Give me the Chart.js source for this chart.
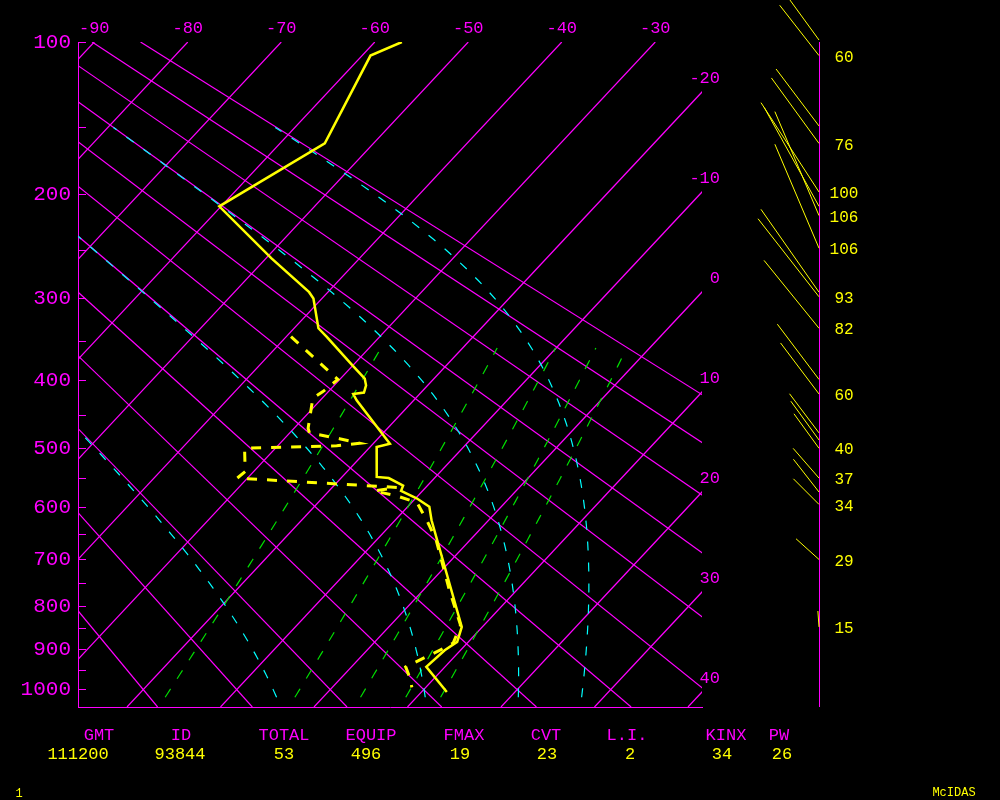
<!DOCTYPE html>
<html>
<head>
<meta charset="utf-8">
<title>Sounding 93844</title>
<script src="https://cdn.jsdelivr.net/npm/chart.js@4.4.1/dist/chart.umd.min.js"></script>
<style>
  html, body { margin: 0; padding: 0; background: #000; }
  #wrap { position: relative; width: 1000px; height: 800px; }
</style>
</head>
<body>
<div id="wrap"><canvas id="skewt" width="1000" height="800"></canvas></div>
<script>
"use strict";

// Temperature sounding (hPa, deg C)
const tempPres = [100, 107, 161, 210, 258, 293, 300, 334, 344, 382, 398, 407, 417, 419, 428, 493, 498, 547, 549, 562, 571, 584, 599, 624, 846, 881, 901, 942, 1006];
const tempVals = [-57.1, -59.1, -55.2, -60.2, -49.4, -42.0, -40.9, -37.4, -35.7, -29.8, -27.4, -26.6, -26.1, -27.1, -26.1, -18.2, -19.3, -16.3, -14.9, -12.6, -12.3, -9.9, -7.7, -6.1, 7.8, 8.8, 8.3, 8.0, 12.7];

// Dewpoint sounding (hPa, deg C)
const dewPres = [344, 399, 416, 425, 469, 476, 485, 492, 496, 500, 538, 549, 565, 571, 580, 592, 608, 624, 662, 764, 842, 884, 897, 921, 942, 969, 994];
const dewVals = [-39.5, -30.2, -30.6, -31.0, -28.5, -27.9, -24.1, -21.5, -23.7, -33.3, -30.9, -31.1, -13.1, -15.2, -12.2, -9.4, -8.0, -6.6, -3.6, 2.8, 7.5, 8.5, 8.0, 6.8, 5.8, 7.3, 8.5];

// Winds (hPa, direction deg, speed)
const windPres = [99, 107, 149, 161, 198, 210, 218, 248, 293, 298, 334, 399, 419, 476, 487, 500, 549, 573, 595, 700, 846];
const windDir = [324, 322, 323, 324, 327, 331, 337, 337, 325, 322, 321, 323, 323, 323, 324, 324, 319, 322, 315, 312, 356];
const windSpd = [62, 60, 67, 76, 100, 106, 106, 106, 95, 93, 82, 65, 60, 46, 45, 40, 37, 39, 34, 29, 15];
const windLabelled = [0, 1, 0, 1, 1, 0, 1, 1, 0, 1, 1, 0, 1, 0, 0, 1, 1, 0, 1, 1, 1];

// Stability indices
const statNames = ['GMT', 'ID', 'TOTAL', 'EQUIP', 'FMAX', 'CVT', 'L.I.', 'KINX', 'PW'];
const statValues = ['111200', '93844', '53', '496', '19', '23', '2', '34', '26'];

// Background lines
const isotherms = [-90, -80, -70, -60, -50, -40, -30, -20, -10, 0, 10, 20, 30, 40];
const dryAdiabats = [-20, -10, 0, 10, 20, 30, 40, 50, 60, 70, 80, 90];   // theta, C
const moistAdiabats = [0, 30, 60, 90];                                   // theta-e, C
const mixingRatios = [1, 3, 5, 7, 9];                                    // g/kg

// Axis labels
const pressureLabels = [100, 200, 300, 400, 500, 600, 700, 800, 900, 1000];
const pressureMinor = [150, 250, 350, 450, 550, 650, 750, 850, 950];
const topTempLabels = [-90, -80, -70, -60, -50, -40, -30];
const sideTempLabels = [-20, -10, 0, 10, 20, 30, 40];

const MAGENTA = '#ff00ff';
const YELLOW = '#ffff00';
const CYAN = '#00ffff';
const GREEN = '#00e000';
const MONO = '"Liberation Mono", "DejaVu Sans Mono", monospace';

// Diagram geometry: vertical coordinate is p^kappa, isotherms skewed
const KAPPA = 0.2857;
const SKEW = 18.67;
const P_TOP = 100;
const P_BOT = 1046;
const Y_TOP = Math.pow(P_TOP, KAPPA);
const Y_BOT = Math.pow(P_BOT, KAPPA);
const X_MIN = -91.74;
const X_MAX = -25.0;
const KT_PX = 1.065;

function pt(p, t) {
    const yv = Math.pow(p, KAPPA);
    return { x: t - SKEW * (yv - Y_TOP), y: yv };
}

function satVap(tc) {
    return 6.112 * Math.exp(17.67 * tc / (tc + 243.5));
}

function thetaE(tc, p) {
    const tk = tc + 273.15;
    const es = satVap(tc);
    const r = 0.622 * es / (p - es);
    return tk * Math.pow(1000 / p, KAPPA) * Math.exp(2.5e6 * r / (1004 * tk));
}

function moistTemp(target, p) {
    let lo = -130, hi = 45;
    for (let i = 0; i < 60; i++) {
        const mid = (lo + hi) / 2;
        if (thetaE(mid, p) > target) hi = mid; else lo = mid;
    }
    return (lo + hi) / 2;
}

function mixTemp(r, p) {
    const e = p * r / (622 + r);
    const l = Math.log(e / 6.112);
    return 243.5 * l / (17.67 - l);
}

function range(a, b, step) {
    const out = [];
    for (let v = a; step < 0 ? v >= b : v <= b; v += step) out.push(v);
    if (out[out.length - 1] !== b) out.push(b);
    return out;
}

function lineSet(data, color, width, dash) {
    return {
        data: data,
        showLine: true,
        pointRadius: 0,
        borderColor: color,
        borderWidth: width,
        borderDash: dash || [],
        tension: 0,
        fill: false,
        xAxisID: 'x',
        yAxisID: 'y'
    };
}

const datasets = [];

datasets.push(lineSet(tempPres.map((p, i) => pt(p, tempVals[i])), YELLOW, 2.5));
datasets.push(lineSet(dewPres.map((p, i) => pt(p, dewVals[i])), YELLOW, 3, [10, 10]));

moistAdiabats.forEach(th => {
    const target = th + 273.15;
    const pts = range(1020, 150, -10).map(p => pt(p, moistTemp(target, p)));
    datasets.push(lineSet(pts, CYAN, 1.2, [9, 12]));
});

mixingRatios.forEach(r => {
    const pts = range(1020, 358, -10).map(p => pt(p, mixTemp(r, p)));
    datasets.push(lineSet(pts, GREEN, 1.2, [10, 12]));
});

dryAdiabats.forEach(th => {
    const pts = [P_TOP, P_BOT].map(p => pt(p, (th + 273.15) * Math.pow(p / 1000, KAPPA) - 273.15));
    datasets.push(lineSet(pts, MAGENTA, 1.2));
});

isotherms.forEach(t => {
    datasets.push(lineSet([pt(P_TOP, t), pt(P_BOT, t)], MAGENTA, 1.2));
});

// Labels, wind column and index table
const overlay = {
    id: 'overlay',
    beforeDraw(chart) {
        const ctx = chart.ctx;
        ctx.save();
        ctx.fillStyle = '#000';
        ctx.fillRect(0, 0, chart.width, chart.height);
        ctx.restore();
    },
    afterDraw(chart) {
        const ctx = chart.ctx;
        const area = chart.chartArea;
        const ys = chart.scales.y;
        ctx.save();

        // isotherm values along the right edge
        ctx.font = '17px ' + MONO;
        ctx.fillStyle = MAGENTA;
        ctx.textAlign = 'right';
        ctx.textBaseline = 'middle';
        sideTempLabels.forEach(t => {
            const py = ys.getPixelForValue(Y_TOP + (t - X_MAX) / SKEW);
            ctx.fillText(String(t), area.right + 18, py - 14);
        });

        // wind column
        const wx = area.right + 117;
        ctx.strokeStyle = MAGENTA;
        ctx.lineWidth = 1;
        ctx.beginPath();
        ctx.moveTo(wx + 0.5, area.top);
        ctx.lineTo(wx + 0.5, area.bottom);
        ctx.stroke();

        ctx.strokeStyle = YELLOW;
        ctx.fillStyle = YELLOW;
        ctx.font = '16px ' + MONO;
        ctx.textAlign = 'center';
        windPres.forEach((p, i) => {
            const by = ys.getPixelForValue(Math.pow(p, KAPPA));
            const len = windSpd[i] * KT_PX;
            const a = windDir[i] * Math.PI / 180;
            ctx.beginPath();
            ctx.moveTo(wx, by);
            ctx.lineTo(wx + len * Math.sin(a), by - len * Math.cos(a));
            ctx.stroke();
            if (windLabelled[i]) ctx.fillText(String(windSpd[i]), wx + 25, by + 2);
        });

        // index table under the diagram
        const nameX = [99, 181, 284, 371, 464, 546, 627, 726, 779];
        const valueX = [78, 180, 284, 366, 460, 547, 630, 722, 782];
        ctx.font = '17px ' + MONO;
        ctx.textAlign = 'center';
        statNames.forEach((s, i) => {
            ctx.fillStyle = MAGENTA;
            ctx.fillText(s, nameX[i], area.bottom + 28);
            ctx.fillStyle = YELLOW;
            ctx.fillText(statValues[i], valueX[i], area.bottom + 47);
        });

        ctx.font = '12px ' + MONO;
        ctx.fillStyle = YELLOW;
        ctx.fillText('1', 19, 794);
        ctx.fillText('McIDAS', 954, 793);
        ctx.restore();
    }
};

new Chart(document.getElementById('skewt'), {
    type: 'scatter',
    data: { datasets: datasets },
    options: {
        responsive: false,
        animation: false,
        events: [],
        layout: { padding: { left: 0, right: 298, top: 0, bottom: 0 } },
        plugins: {
            legend: { display: false },
            tooltip: { enabled: false }
        },
        scales: {
            x: {
                type: 'linear',
                position: 'top',
                min: X_MIN,
                max: X_MAX,
                afterBuildTicks: s => { s.ticks = topTempLabels.map(v => ({ value: v })); },
                afterFit: s => { s.height = 42; },
                grid: { display: false },
                border: { display: false },
                ticks: {
                    color: MAGENTA,
                    font: { family: MONO, size: 17 },
                    padding: -5,
                    autoSkip: false,
                    maxRotation: 0,
                    callback: v => String(v)
                }
            },
            xb: {
                type: 'linear',
                position: 'bottom',
                min: X_MIN,
                max: X_MAX,
                afterFit: s => { s.height = 93; },
                grid: { display: false },
                ticks: { display: false },
                border: { display: true, color: MAGENTA, width: 1 }
            },
            y: {
                type: 'linear',
                position: 'left',
                reverse: true,
                min: Y_TOP,
                max: Y_BOT,
                afterBuildTicks: s => {
                    s.ticks = pressureLabels.concat(pressureMinor).map(p => ({ value: Math.pow(p, KAPPA) }));
                },
                afterFit: s => { s.width = 78; },
                grid: { drawOnChartArea: false, color: MAGENTA, tickLength: -8, lineWidth: 1 },
                border: { display: true, color: MAGENTA, width: 1 },
                ticks: {
                    color: MAGENTA,
                    font: { family: MONO, size: 21 },
                    padding: 15,
                    autoSkip: false,
                    callback: v => {
                        const p = Math.round(Math.pow(v, 1 / KAPPA));
                        return pressureLabels.includes(p) ? String(p) : '';
                    }
                }
            }
        }
    },
    plugins: [overlay]
});
</script>
</body>
</html>
